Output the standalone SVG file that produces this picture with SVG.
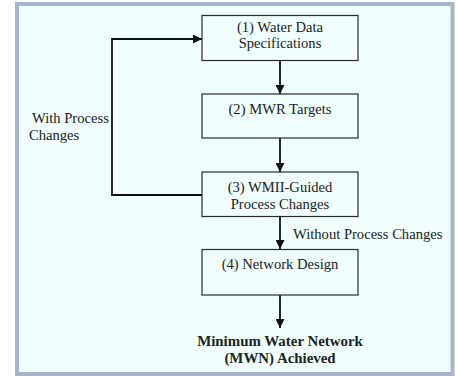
<svg xmlns="http://www.w3.org/2000/svg" width="457" height="376" viewBox="0 0 457 376">
<defs>
<style>
.frame{fill:#f0feff;stroke:#a6b4cc;stroke-width:4}
.box{fill:#f0feff;stroke:#2a2a2a;stroke-width:1.2}
.t{font-family:"Liberation Serif","Times New Roman",serif;font-size:14.6px;fill:#222}
.c{text-anchor:middle}
.b{font-weight:bold;font-size:14.9px}
.ln{fill:none;stroke:#111;stroke-width:1.8}
</style>
<marker id="ah" viewBox="0 0 10 10" refX="10" refY="5" markerWidth="9" markerHeight="9" markerUnits="userSpaceOnUse" orient="auto">
<path d="M0,0 L10,5 L0,10 Z" fill="#111"/>
</marker>
</defs>
<rect class="frame" x="17" y="4" width="435.5" height="370"/>
<g id="connectors">
<line class="ln" x1="280" y1="60" x2="280" y2="94" marker-end="url(#ah)"/>
<line class="ln" x1="280" y1="138" x2="280" y2="172" marker-end="url(#ah)"/>
<line class="ln" x1="280" y1="216" x2="280" y2="249" marker-end="url(#ah)"/>
<line class="ln" x1="280" y1="295" x2="280" y2="328" marker-end="url(#ah)"/>
<polyline class="ln" points="202,195 112,195 112,39 202,39" marker-end="url(#ah)"/>
<text class="t" x="293" y="239">Without Process Changes</text>
<text class="t" x="32" y="123">With Process</text>
<text class="t" x="29" y="140">Changes</text>
</g>
<g id="n1">
<rect class="box" x="202" y="15.5" width="156" height="45"/>
<text class="t c" x="280" y="32">(1) Water Data</text>
<text class="t c" x="280" y="48">Specifications</text>
</g>
<g id="n2">
<rect class="box" x="202" y="94" width="156" height="44"/>
<text class="t c" x="280" y="114">(2) MWR Targets</text>
</g>
<g id="n3">
<rect class="box" x="202" y="172" width="156" height="44.5"/>
<text class="t c" x="280" y="192">(3) WMII-Guided</text>
<text class="t c" x="280" y="209">Process Changes</text>
</g>
<g id="n4">
<rect class="box" x="202" y="249.5" width="156" height="45.5"/>
<text class="t c" x="280" y="269">(4) Network Design</text>
</g>
<g id="result">
<text class="t c b" x="280" y="346">Minimum Water Network</text>
<text class="t c b" x="280" y="363">(MWN) Achieved</text>
</g>
</svg>
